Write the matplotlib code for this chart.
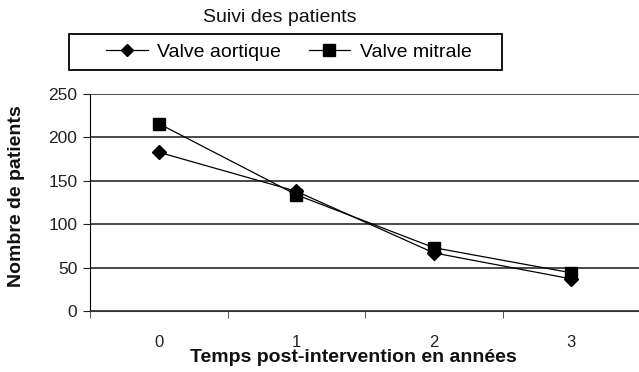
import matplotlib.pyplot as plt
from matplotlib.patches import Rectangle
from matplotlib.ticker import FixedLocator

plt.rcParams['font.family'] = ['Liberation Sans', 'DejaVu Sans']

annees = [0, 1, 2, 3]
aortique = [183, 138, 67, 37]
mitrale = [216, 134, 73, 44]

fig = plt.figure(figsize=(6.39, 3.72), dpi=100)
ax = fig.add_axes([0.1408, 0.164, 0.861, 0.583])

l1, = ax.plot(annees, aortique, color='black', lw=0.9, marker='D', ms=7.5,
              label='Valve aortique')
l2, = ax.plot(annees, mitrale, color='black', lw=0.9, marker='s', ms=8.5,
              label='Valve mitrale')

ax.set_xlim(-0.5, 3.5)
ax.set_ylim(0, 250)
ax.set_yticks([0, 50, 100, 150, 200, 250])
ax.yaxis.grid(True, color='#3a3a3a', lw=1.3)
ax.set_axisbelow(True)

# category labels in the middle, ticks on the boundaries
ax.set_xticks(annees)
ax.xaxis.set_minor_locator(FixedLocator([-0.5, 0.5, 1.5, 2.5, 3.5]))
ax.tick_params(axis='x', which='major', length=0, pad=17, labelsize=12, colors='#222222')
ax.tick_params(axis='x', which='minor', length=5, direction='out', color='#333333')
ax.tick_params(axis='y', length=5, direction='out', labelsize=12.5, colors='#222222', pad=4)

for s in ['top', 'right']:
    ax.spines[s].set_visible(False)
ax.spines['left'].set_color('black')
ax.spines['bottom'].set_color('#333333')

ax.set_ylabel('Nombre de patients', fontsize=14, fontweight='bold', color='#111111')
ax.yaxis.set_label_coords(-0.118, 0.53)
ax.set_xlabel('Temps post-intervention en années', fontsize=14, fontweight='bold', color='#111111')
ax.xaxis.set_label_coords(0.478, -0.175)

fig.text(0.438, 0.953, 'Suivi des patients', ha='center', va='center', fontsize=14, color='#111111')

leg = fig.legend(handles=[l1, l2], loc='center', bbox_to_anchor=(0.452, 0.860),
                 ncol=2, frameon=False, fontsize=14, handlelength=2.15,
                 handletextpad=0.5, columnspacing=1.4)
leg.legend_handles[0].set_markersize(6.5)
fig.add_artist(Rectangle((0.108, 0.8118), 0.678, 0.0968, transform=fig.transFigure,
                         fill=False, edgecolor='black', lw=1.3))

fig.savefig('out.png', dpi=100)
